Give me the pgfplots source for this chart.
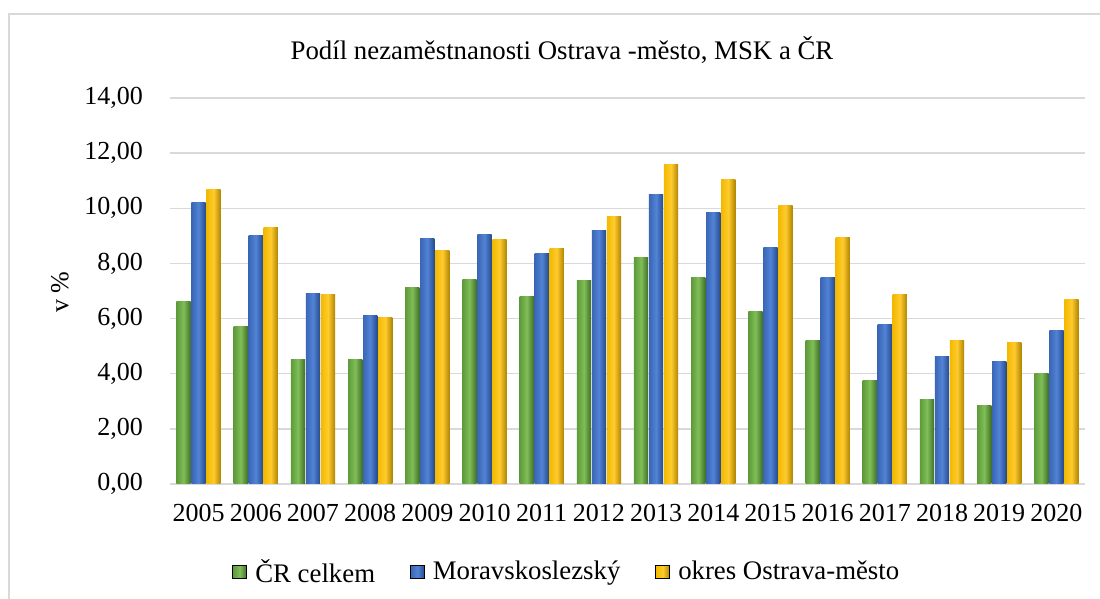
\documentclass[border=0pt]{standalone}
\usepackage{pgfplots}
\pgfplotsset{compat=1.18}
\usepackage{fontspec}
\setmainfont{Liberation Serif}
\definecolor{gridc}{HTML}{D9D9D9}
\definecolor{gL}{HTML}{5E9A3A}\definecolor{gM}{HTML}{80BE58}\definecolor{gR}{HTML}{3F6E25}
\definecolor{bL}{HTML}{3A66B5}\definecolor{bM}{HTML}{5283D6}\definecolor{bR}{HTML}{254A8C}
\definecolor{yL}{HTML}{F2B900}\definecolor{yM}{HTML}{FFCB2E}\definecolor{yR}{HTML}{B08400}
\pgfplotsset{
  gfill/.style={left color=gL, right color=gR, middle color=gM},
  bfill/.style={left color=bL, right color=bR, middle color=bM},
  yfill/.style={left color=yL, right color=yR, middle color=yM},
  gbar/.style={ybar, bar shift=-7.5pt, draw=none, gfill, forget plot},
  bbar/.style={ybar, bar shift=0pt, draw=none, bfill, forget plot},
  ybarc/.style={ybar, bar shift=7.5pt, draw=none, yfill, forget plot},
}
\newcommand\G[2]{\addplot[gbar] coordinates {(#1,#2)};}
\newcommand\B[2]{\addplot[bbar] coordinates {(#1,#2)};}
\newcommand\Y[2]{\addplot[ybarc] coordinates {(#1,#2)};}
\begin{document}
\begin{tikzpicture}
\useasboundingbox (0,0) rectangle (550pt,299.5pt);
\fill[white] (0,0) rectangle (550pt,299.5pt);
\draw[gridc, line width=0.75pt] (4.5pt,-20pt) -- (4.5pt,292.5pt) -- (580pt,292.5pt);
\node[font=\fontsize{13.4}{15}\selectfont] at (281pt,274.5pt) {Podíl nezaměstnanosti Ostrava -město, MSK a ČR};
\node[font=\fontsize{13}{15}\selectfont, rotate=90] at (30pt,153.5pt) {v \%};
\begin{axis}[
  at={(85pt,57.5pt)}, anchor=south west,
  scale only axis, width=457.5pt, height=193pt,
  xmin=-0.5, xmax=15.5, ymin=0, ymax=14,
  bar width=7.15pt,
  separate axis lines,
  x axis line style={gridc, line width=0.75pt},
  y axis line style={draw=none},
  ytick={0,2,...,14},
  xtick={0,...,15},
  xticklabels={2005,2006,2007,2008,2009,2010,2011,2012,2013,2014,2015,2016,2017,2018,2019,2020},
  ymajorgrids, grid style={gridc, line width=0.75pt},
  major tick length=0pt,
  tick label style={font=\fontsize{13}{15}\selectfont},
  yticklabel style={xshift=-10pt},
  xticklabel style={yshift=-6.5pt},
  /pgf/number format/assume math mode=true,
  yticklabel={\pgfmathprintnumber[fixed,fixed zerofill,precision=2,use comma]{\tick}},
  legend columns=3,
  legend style={at={(0.4343,-0.228)}, anchor=center, draw=none, fill=none,
    font=\fontsize{13.4}{15}\selectfont, nodes={inner sep=1.5pt},
    /tikz/every odd column/.append style={column sep=2.5pt},
    /tikz/every even column/.append style={column sep=16pt}},
  legend image code/.code={\fill[#1] (0pt,-3.25pt) rectangle (7pt,3.25pt);},
]
\G{0}{6.61}\G{1}{5.73}\G{2}{4.50}\G{3}{4.53}\G{4}{7.13}\G{5}{7.41}\G{6}{6.79}\G{7}{7.37}
\G{8}{8.21}\G{9}{7.48}\G{10}{6.24}\G{11}{5.19}\G{12}{3.77}\G{13}{3.08}\G{14}{2.85}\G{15}{4.02}
\B{0}{10.22}\B{1}{9.00}\B{2}{6.90}\B{3}{6.11}\B{4}{8.90}\B{5}{9.04}\B{6}{8.35}\B{7}{9.20}
\B{8}{10.51}\B{9}{9.85}\B{10}{8.57}\B{11}{7.49}\B{12}{5.78}\B{13}{4.64}\B{14}{4.46}\B{15}{5.55}
\Y{0}{10.69}\Y{1}{9.30}\Y{2}{6.86}\Y{3}{6.04}\Y{4}{8.47}\Y{5}{8.87}\Y{6}{8.53}\Y{7}{9.71}
\Y{8}{11.60}\Y{9}{11.05}\Y{10}{10.11}\Y{11}{8.93}\Y{12}{6.86}\Y{13}{5.19}\Y{14}{5.13}\Y{15}{6.68}
\addlegendimage{gfill}\addlegendentry{ČR celkem}
\addlegendimage{bfill}\addlegendentry{Moravskoslezský}
\addlegendimage{yfill}\addlegendentry{okres Ostrava-město}
\end{axis}
\end{tikzpicture}
\end{document}
